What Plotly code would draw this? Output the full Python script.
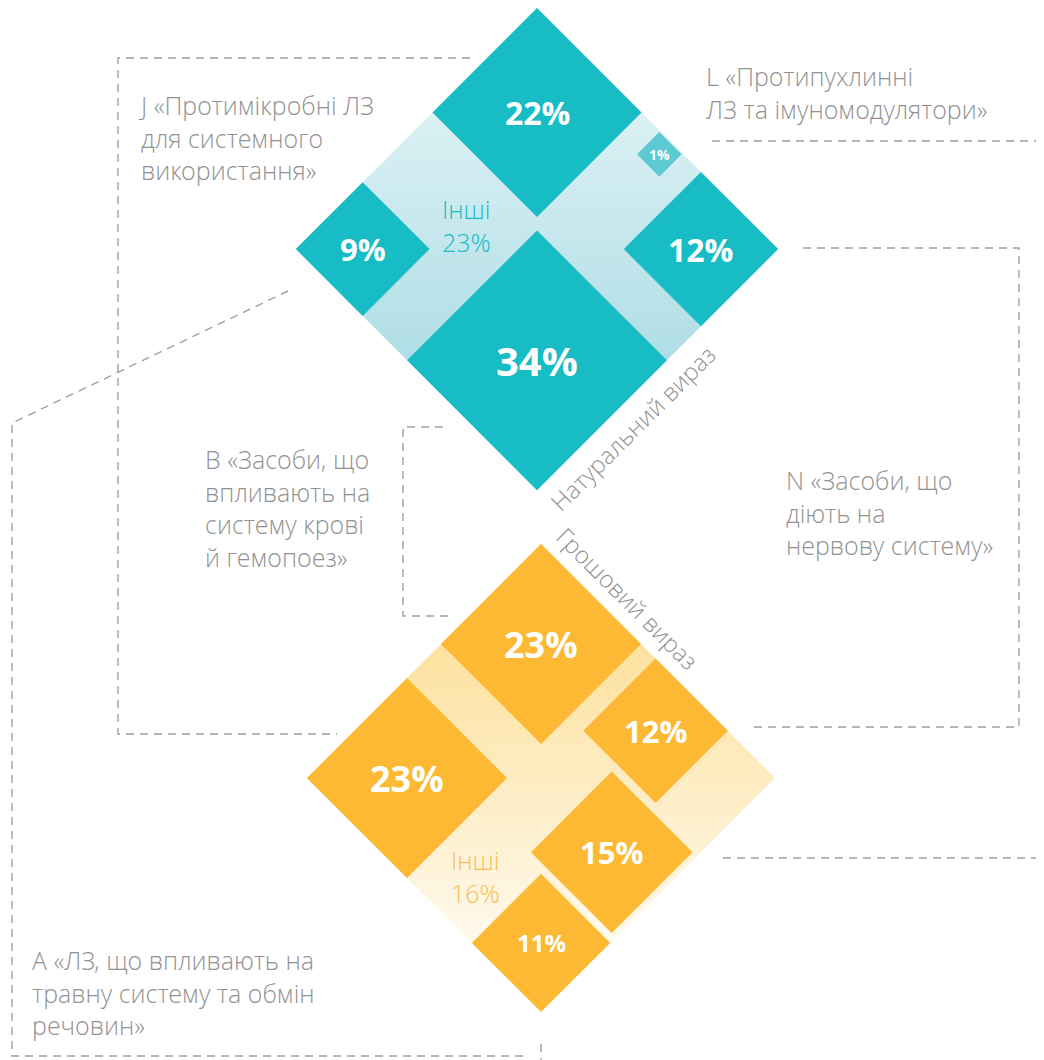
import math
import plotly.graph_objects as go

# ---- data ----
groups = ['J', 'L', 'B', 'N', 'A']
group_names = [
    'J «Протимікробні ЛЗ<br>для системного<br>використання»',
    'L «Протипухлинні<br>ЛЗ та імуномодулятори»',
    'B «Засоби, що<br>впливають на<br>систему крові<br>й гемопоез»',
    'N «Засоби, що<br>діють на<br>нервову систему»',
    'A «ЛЗ, що впливають на<br>травну систему та обмін<br>речовин»',
]
natural_share = [22, 1, 34, 12, 9]      # натуральний вираз, %
money_share = [23, 15, 23, 12, 11]      # грошовий вираз, %
natural_other = 23
money_other = 16
panel_titles = ['Натуральний вираз', 'Грошовий вираз']

# ---- layout / style ----
W, H = 1044, 1060
PAD = 8  # default body margin of the page
TEAL, TEAL_LIGHT = '#17bcc5', '#5dc9d2'
ORANGE = '#fdb934'
GREY = '#929292'
DASH = '#a0a0a0'
LIGHT_FONT = 'Open Sans Light, Open Sans'
R2 = math.sqrt(2)

panels = {
    'natural': dict(origin=(537, 8), S=341, K=31.5, color=TEAL,
                    band=[[0, '#eef9fa'], [1, '#98d3de']],
                    place={'J': 'top', 'A': 'left', 'N': 'right', 'B': 'bottom', 'L': (190, 17)},
                    fsize={'J': 32, 'A': 31, 'N': 32, 'B': 40, 'L': 14},
                    other_pos=(104, 204), other_color=TEAL),
    'money': dict(origin=(541, 544), S=331, K=29.5, color=ORANGE,
                  band=[[0, '#fcd984'], [1, '#ffffff']],
                  place={'B': 'top', 'J': 'left', 'A': 'bottom', 'N': (213, 51), 'L': (268, 168)},
                  fsize={'B': 36, 'J': 36, 'N': 31, 'L': 31, 'A': 24},
                  other_pos=(189, 281), other_color='#f9bf52'),
}


def to_xy(p, u, v):
    ox, oy = p['origin']
    return ox + (u - v) / R2, oy + (u + v) / R2


def square(p, u0, v0, s):
    pts = [(u0, v0), (u0 + s, v0), (u0 + s, v0 + s), (u0, v0 + s), (u0, v0)]
    xs, ys = zip(*[to_xy(p, u, v) for u, v in pts])
    return list(xs), list(ys)


fig = go.Figure()
annotations = []


def draw_panel(p, shares, other):
    S = p['S']
    xs, ys = square(p, 0, 0, S)
    fig.add_trace(go.Scatter(x=xs, y=ys, mode='lines', fill='toself',
                             line=dict(width=0), hoverinfo='skip',
                             fillgradient=dict(type='vertical', colorscale=p['band'],
                                               start=min(ys), stop=max(ys))))
    for g, val in zip(groups, shares):
        s = p['K'] * math.sqrt(val)
        pl = p['place'][g]
        if pl == 'top':
            u0, v0 = 0, 0
        elif pl == 'left':
            u0, v0 = 0, S - s
        elif pl == 'right':
            u0, v0 = S - s, 0
        elif pl == 'bottom':
            u0, v0 = S - s, S - s
        else:
            u0, v0 = pl[0] - s / 2, pl[1] - s / 2
        col = TEAL_LIGHT if val < 5 else p['color']
        xs, ys = square(p, u0, v0, s)
        fig.add_trace(go.Scatter(x=xs, y=ys, mode='lines', fill='toself',
                                 fillcolor=col, line=dict(width=0), hoverinfo='skip'))
        cx, cy = to_xy(p, u0 + s / 2, v0 + s / 2)
        annotations.append(dict(x=cx, y=cy, text=f'{val}%', showarrow=False,
                                font=dict(family='Open Sans', size=p['fsize'][g],
                                          color='white', weight='bold')))
    ox, oy = to_xy(p, *p['other_pos'])
    annotations.append(dict(x=ox, y=oy, text=f'Інші<br>{other}%', showarrow=False,
                            align='left', xanchor='center', yanchor='middle',
                            font=dict(family=LIGHT_FONT, size=25, color=p['other_color'])))


draw_panel(panels['natural'], natural_share, natural_other)
draw_panel(panels['money'], money_share, money_other)

# leader lines (dashed)
leaders = [
    [(470, 58), (118, 58), (118, 734), (337, 734)],
    [(712, 141), (1044, 141)],
    [(723, 858), (1044, 858)],
    [(443, 427), (403, 427), (403, 616), (452, 616)],
    [(803, 248), (1019, 248), (1019, 727), (750, 727)],
    [(288, 291), (12, 423), (12, 1056), (527, 1056)],
    [(541, 1044), (541, 1060)],
]
for path in leaders:
    lx, ly = zip(*path)
    fig.add_trace(go.Scatter(x=list(lx), y=list(ly), mode='lines', hoverinfo='skip',
                             line=dict(color=DASH, width=1.4, dash='8px,6px')))

# category labels
label_pos = {'J': (136, 86), 'L': (704, 57), 'B': (203, 440), 'N': (784, 461), 'A': (30, 941)}
for g, name in zip(groups, group_names):
    x, y = label_pos[g]
    annotations.append(dict(x=x, y=y, text=name, showarrow=False, xanchor='left',
                            yanchor='top', align='left',
                            font=dict(family=LIGHT_FONT, size=25, color=GREY, weight=300)))

# rotated panel titles
annotations.append(dict(x=632, y=428, text=panel_titles[0], textangle=-45, showarrow=False,
                        font=dict(family=LIGHT_FONT, size=24, color=GREY, weight=300)))
annotations.append(dict(x=628, y=598, text=panel_titles[1], textangle=45, showarrow=False,
                        font=dict(family=LIGHT_FONT, size=24, color=GREY, weight=300)))

fig.update_layout(
    width=W - PAD, height=H - PAD, margin=dict(l=0, r=0, t=0, b=0),
    paper_bgcolor='white', plot_bgcolor='white', showlegend=False,
    xaxis=dict(range=[PAD, W], visible=False, fixedrange=True),
    yaxis=dict(range=[H, PAD], visible=False, fixedrange=True),
    annotations=annotations,
)

fig.write_html('out.html')
